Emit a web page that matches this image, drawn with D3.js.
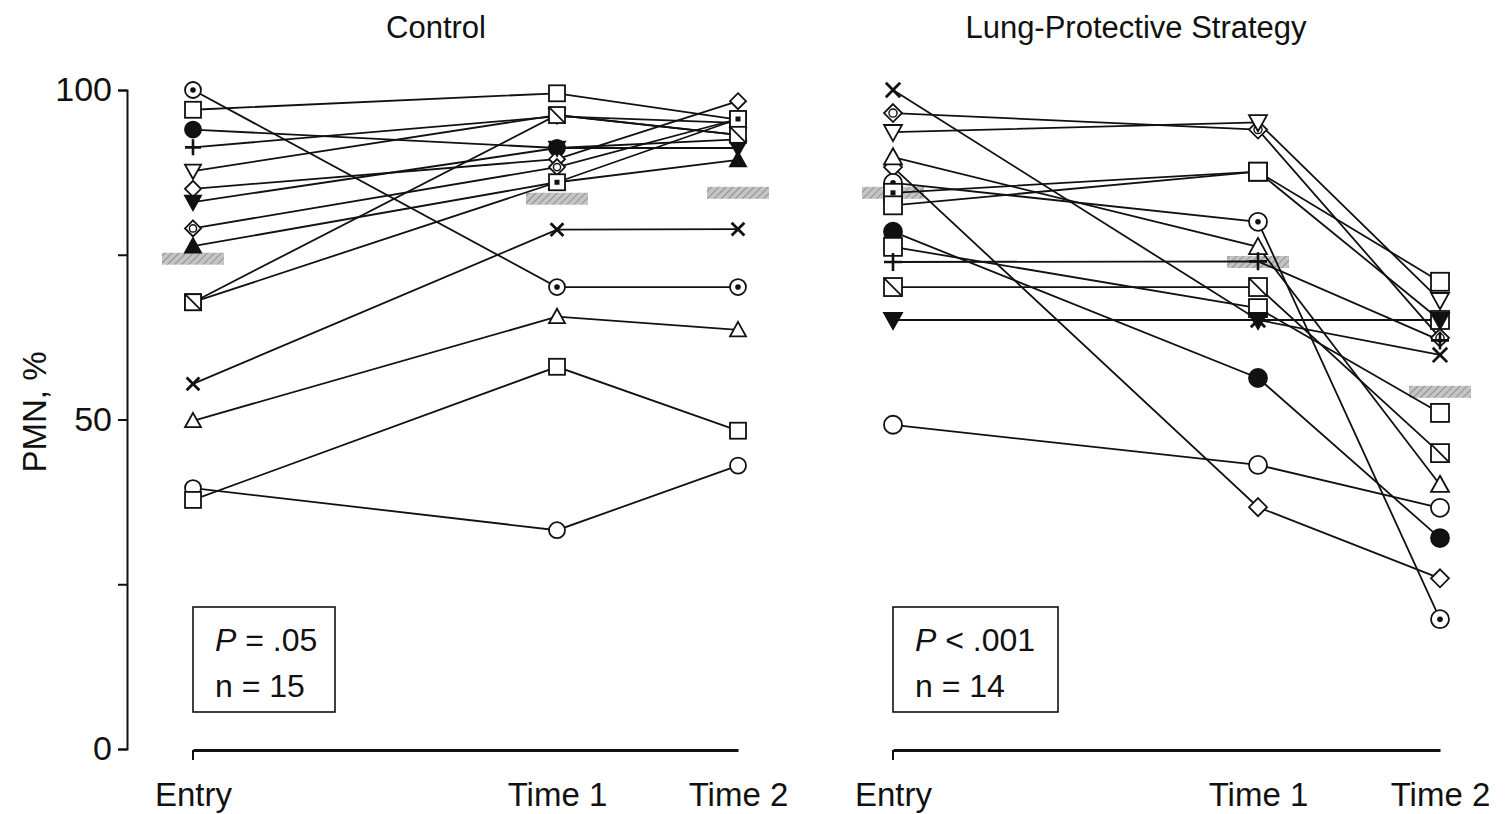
<!DOCTYPE html>
<html>
<head>
<meta charset="utf-8">
<script src="https://cdn.jsdelivr.net/npm/d3@7"></script>
<style>
  body { margin: 0; background: #fff; }
  text { font-family: "Liberation Sans", Arial, sans-serif; fill: #111; }
</style>
</head>
<body>
<div id="chart"></div>
<script>
var times = ["Entry", "Time 1", "Time 2"];
var yTicks = [0, 25, 50, 75, 100];

// control group, one row per patient: Entry, Time 1, Time 2
var controlSymbols = ["circleDot", "square", "circleFill", "plus", "triDown", "diamond", "triUpFill",
  "diamondDot", "triDownFill", "squareDot", "squareSlash", "cross", "triUp", "circle", "square"];
var controlValues = [
  [100, 70.1, 70.1],
  [97, 99.5, 95.5],
  [94, 91.2, 92.5],
  [91.3, 96, 95],
  [87.7, 96.2, 93.2],
  [85, 89.5, 98.3],
  [76.3, 86, 89.4],
  [79, 88.3, 95.6],
  [83, 91.2, 91.2],
  [67.8, 86, 95.6],
  [67.8, 96.2, 93.2],
  [55.4, 78.8, 78.9],
  [49.8, 65.6, 63.6],
  [39.6, 33.2, 43],
  [37.8, 58, 48.3]
];
var controlMedians = [74.4, 83.5, 84.4];

// lung-protective strategy group
var lpsSymbols = ["cross", "diamondDot", "triDown", "diamond", "triUp", "circleDot", "squareDot", "square",
  "circleFill", "square", "plus", "squareSlash", "triDownFill", "circle"];
var lpsValues = [
  [100, 65.1, 59.8],
  [96.5, 94, 62.4],
  [93.6, 95.1, 68.1],
  [88.3, 36.7, 25.9],
  [89.8, 76.2, 40.1],
  [85.9, 80, 19.7],
  [84.4, 87.6, 65.1],
  [82.5, 87.6, 70.9],
  [78.5, 56.3, 32],
  [76.2, 66.9, 51],
  [73.9, 74, 62],
  [70.1, 70.1, 44.9],
  [65.1, 65.1, 65.1],
  [49.2, 43.1, 36.6]
];
var lpsMedians = [84.4, 73.9, 54.2];

var panels = [
  {title: "Control", symbols: controlSymbols, values: controlValues, medians: controlMedians,
   p: ".05", op: "=", n: 15, range: [193, 557, 738], titleX: 436, boxW: 142, size: 16},
  {title: "Lung-Protective Strategy", symbols: lpsSymbols, values: lpsValues, medians: lpsMedians,
   p: ".001", op: "<", n: 14, range: [893, 1258, 1440], titleX: 1136, boxW: 165, size: 18}
];

var W = 1505, H = 814;
var svg = d3.select("#chart").append("svg")
    .attr("width", W)
    .attr("height", H);

var defs = svg.append("defs");
var pat = defs.append("pattern")
    .attr("id", "hatch")
    .attr("patternUnits", "userSpaceOnUse")
    .attr("width", 5)
    .attr("height", 5)
    .attr("patternTransform", "rotate(45)");
pat.append("rect").attr("width", 5).attr("height", 5).attr("fill", "#c4c4c4");
pat.append("line").attr("x1", 0).attr("y1", 0).attr("x2", 0).attr("y2", 5)
    .attr("stroke", "#909090").attr("stroke-width", 2);

var y = d3.scaleLinear().domain([0, 100]).range([749, 90]);

// y axis (left panel only)
var yAxis = d3.axisLeft(y)
    .tickValues(yTicks)
    .tickSize(9)
    .tickPadding(6)
    .tickFormat(function(d) { return d % 50 === 0 ? d : ""; });

var yg = svg.append("g")
    .attr("transform", "translate(127,0)")
    .call(yAxis);
yg.select(".domain").attr("stroke", "#111").attr("stroke-width", 2);
yg.selectAll(".tick line").attr("stroke", "#111").attr("stroke-width", 2);
yg.selectAll(".tick text")
    .style("font-size", "34px")
    .style("font-family", "'Liberation Sans', Arial, sans-serif")
    .attr("fill", "#111");

svg.append("text")
    .attr("transform", "translate(46,412) rotate(-90)")
    .attr("text-anchor", "middle")
    .style("font-size", "33px")
    .text("PMN, %");

function marker(g, type, s) {
  var h = s / 2;
  var stroke = "#111", sw = 1.8;
  if (type === "circle" || type === "circleDot" || type === "circleFill") {
    g.append("circle").attr("r", h)
      .attr("fill", type === "circleFill" ? stroke : "#fff")
      .attr("stroke", stroke).attr("stroke-width", sw);
    if (type === "circleDot") g.append("circle").attr("r", 2.8).attr("fill", stroke);
  } else if (type === "square" || type === "squareDot" || type === "squareSlash") {
    g.append("rect").attr("x", -h).attr("y", -h).attr("width", s).attr("height", s)
      .attr("fill", "#fff").attr("stroke", stroke).attr("stroke-width", sw);
    if (type === "squareDot") g.append("rect").attr("x", -2.5).attr("y", -2.5)
      .attr("width", 5).attr("height", 5).attr("fill", stroke);
    if (type === "squareSlash") g.append("line").attr("x1", -h).attr("y1", -h)
      .attr("x2", h).attr("y2", h).attr("stroke", stroke).attr("stroke-width", sw);
  } else if (type === "triUp" || type === "triUpFill") {
    g.append("path").attr("d", "M0," + (-h) + "L" + h + "," + (h * 0.8) + "L" + (-h) + "," + (h * 0.8) + "Z")
      .attr("fill", type === "triUpFill" ? stroke : "#fff")
      .attr("stroke", stroke).attr("stroke-width", sw);
  } else if (type === "triDown" || type === "triDownFill") {
    g.append("path").attr("d", "M0," + h + "L" + h + "," + (-h * 0.8) + "L" + (-h) + "," + (-h * 0.8) + "Z")
      .attr("fill", type === "triDownFill" ? stroke : "#fff")
      .attr("stroke", stroke).attr("stroke-width", sw);
  } else if (type === "diamond" || type === "diamondDot") {
    g.append("path").attr("d", "M0," + (-h) + "L" + h + ",0L0," + h + "L" + (-h) + ",0Z")
      .attr("fill", "#fff").attr("stroke", stroke).attr("stroke-width", sw);
    if (type === "diamondDot") g.append("circle").attr("r", h * 0.45)
      .attr("fill", "none").attr("stroke", stroke).attr("stroke-width", 1.4);
  } else if (type === "plus") {
    g.append("path").attr("d", "M" + (-h) + ",0H" + h + "M0," + (-h) + "V" + h)
      .attr("stroke", stroke).attr("stroke-width", 2.6);
  } else if (type === "cross") {
    var c = h * 0.8;
    g.append("path").attr("d", "M" + (-c) + "," + (-c) + "L" + c + "," + c + "M" + c + "," + (-c) + "L" + (-c) + "," + c)
      .attr("stroke", stroke).attr("stroke-width", 2.8);
  }
}

panels.forEach(function(pn) {
  var x = d3.scaleOrdinal().domain(times).range(pn.range);
  var g = svg.append("g");

  g.append("text")
    .attr("x", pn.titleX)
    .attr("y", 38)
    .attr("text-anchor", "middle")
    .style("font-size", "31px")
    .text(pn.title);

  // x axis
  var xAxis = d3.axisBottom(x).tickSizeInner(0).tickSizeOuter(0).tickPadding(33);
  var xg = g.append("g")
    .attr("transform", "translate(0,750)")
    .call(xAxis);
  xg.select(".domain").attr("stroke", "#111").attr("stroke-width", 3);
  xg.selectAll(".tick text")
    .style("font-size", "33px")
    .style("font-family", "'Liberation Sans', Arial, sans-serif")
    .attr("fill", "#111");
  g.append("line")
    .attr("x1", x(times[0])).attr("x2", x(times[0]))
    .attr("y1", 750).attr("y2", 760)
    .attr("stroke", "#111").attr("stroke-width", 2);

  // median markers
  g.selectAll(".median")
    .data(pn.medians)
    .enter().append("rect")
      .attr("class", "median")
      .attr("x", function(d, i) { return x(times[i]) - 31; })
      .attr("y", function(d) { return y(d) - 6; })
      .attr("width", 62)
      .attr("height", 12)
      .attr("fill", "url(#hatch)");

  var line = d3.line()
    .x(function(d, i) { return x(times[i]); })
    .y(function(d) { return y(d); });

  g.selectAll(".pline")
    .data(pn.values)
    .enter().append("path")
      .attr("class", "pline")
      .attr("d", line)
      .attr("fill", "none")
      .attr("stroke", "#111")
      .attr("stroke-width", 1.8);

  pn.values.forEach(function(vals, k) {
    vals.forEach(function(v, i) {
      var m = g.append("g").attr("transform", "translate(" + x(times[i]) + "," + y(v) + ")");
      marker(m, pn.symbols[k], pn.size);
    });
  });

  // stats box
  var bx = pn.range[0], by = 607;
  g.append("rect")
    .attr("x", bx).attr("y", by)
    .attr("width", pn.boxW).attr("height", 105)
    .attr("fill", "#fff")
    .attr("stroke", "#111").attr("stroke-width", 1.6);
  var t1 = g.append("text").attr("x", bx + 22).attr("y", by + 44).style("font-size", "32px");
  t1.append("tspan").style("font-style", "italic").text("P");
  t1.append("tspan").text(" " + pn.op + " " + pn.p);
  g.append("text").attr("x", bx + 22).attr("y", by + 90).style("font-size", "32px")
    .text("n = " + pn.n);
});
</script>
</body>
</html>
